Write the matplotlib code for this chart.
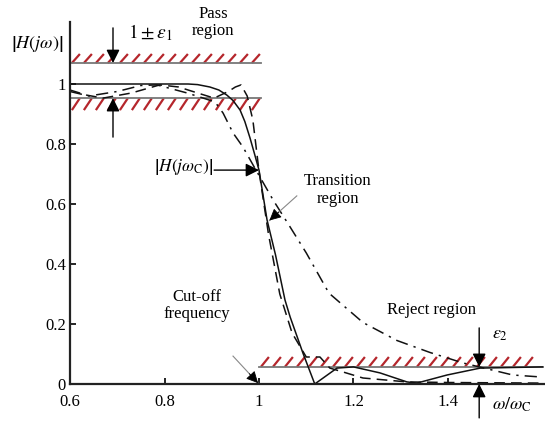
import numpy as np
import matplotlib
matplotlib.use('Agg')
import matplotlib.pyplot as plt
from matplotlib.collections import LineCollection

plt.rcParams['font.family'] = ['Liberation Serif', 'DejaVu Serif']
plt.rcParams['mathtext.fontset'] = 'stix'

# ---------------------------------------------------------------- data
solid_x = [0.6, 0.85, 0.87, 0.896, 0.915, 0.932, 0.945, 0.96, 0.97, 0.981, 0.99, 1.0, 1.017, 1.035,
           1.055, 1.066, 1.093, 1.118, 1.165, 1.2, 1.256, 1.313, 1.334, 1.398, 1.468, 1.6]
solid_y = [1.0, 1.0, 0.998, 0.99, 0.98, 0.963, 0.945, 0.913, 0.875, 0.82, 0.77, 0.713, 0.547, 0.43,
           0.28, 0.223, 0.103, 0.0, 0.053, 0.057, 0.037, 0.007, 0.003, 0.03, 0.053, 0.057]

dashed_x = [0.6, 0.635, 0.67, 0.73, 0.79, 0.83, 0.87, 0.905, 0.935, 0.95, 0.962, 0.975, 0.987, 1.0,
            1.02, 1.044, 1.07, 1.1, 1.129, 1.15, 1.178, 1.22, 1.313, 1.4, 1.5, 1.6]
dashed_y = [0.98, 0.963, 0.953, 0.97, 0.997, 0.99, 0.97, 0.953, 0.975, 0.99, 0.997, 0.96, 0.88, 0.71,
            0.5, 0.3, 0.17, 0.09, 0.09, 0.053, 0.04, 0.02, 0.007, 0.005, 0.004, 0.003]

dashdot_x = [0.6, 0.64, 0.70, 0.75, 0.784, 0.848, 0.882, 0.907, 0.924, 0.945, 0.966, 0.99, 1.03,
             1.066, 1.10, 1.148, 1.22, 1.292, 1.362, 1.432, 1.537, 1.6]
dashdot_y = [0.975, 0.96, 0.975, 0.995, 0.997, 0.97, 0.953, 0.94, 0.903, 0.837, 0.79, 0.723, 0.613,
             0.523, 0.437, 0.303, 0.205, 0.145, 0.105, 0.07, 0.03, 0.023]

pass_upper = 1.07     # 1 + eps1
pass_lower = 0.953    # 1 - eps1
reject_level = 0.057  # eps2
hc = 0.713            # |H(jwc)|

xticks = [0.6, 0.8, 1.0, 1.2, 1.4]
xtick_labels = ['0.6', '0.8', '1', '1.2', '1.4']
yticks = [0, 0.2, 0.4, 0.6, 0.8, 1.0]
ytick_labels = ['0', '0.2', '0.4', '0.6', '0.8', '1']

# ---------------------------------------------------------------- figure
fig = plt.figure(figsize=(5.45, 4.23), dpi=100)
ax = fig.add_axes([70 / 545, 39 / 423, 475 / 545, 362 / 423])
ax.set_xlim(0.6, 1.6 + 2.5 / 472.5)
ax.set_ylim(0, 362 / 300)

for s in ['top', 'right']:
    ax.spines[s].set_visible(False)
for s in ['left', 'bottom']:
    ax.spines[s].set_linewidth(1.6)
    ax.spines[s].set_color('#222222')

ax.set_xticks(xticks)
ax.set_xticklabels(xtick_labels)
ax.set_yticks(yticks)
ax.set_yticklabels(ytick_labels)
ax.tick_params(direction='in', length=4, width=1.2, labelsize=12)
ax.tick_params(axis='x', pad=7)
ax.tick_params(axis='y', pad=3)


def hatch_band(x0, x1, ylo, yhi, line_y):
    # red diagonal strokes + the band's border line
    step = 12 / 472.5
    dx = 8 / 472.5
    segs = [[(xs, ylo), (xs + dx, yhi)] for xs in np.arange(x0 + 0.004, x1 - dx, step)]
    ax.add_collection(LineCollection(segs, colors='#b5262c', linewidths=1.6, clip_on=False))
    ax.plot([x0, x1], [line_y, line_y], color='#777777', lw=1.3, clip_on=False)


hatch_band(0.6, 1.005, pass_upper, pass_upper + 0.03, pass_upper)
hatch_band(0.6, 1.005, pass_lower - 0.04, pass_lower, pass_lower)
hatch_band(1.0, 1.6, reject_level, reject_level + 0.033, reject_level)

ax.plot(solid_x, solid_y, color='#111111', lw=1.1)
ax.plot(dashed_x, dashed_y, color='#111111', lw=1.1, linestyle=(0, (7, 4)))
ax.plot(dashdot_x, dashdot_y, color='#111111', lw=1.1, linestyle=(0, (8, 4, 1.5, 4)))

black = dict(arrowstyle='-|>', color='black', lw=1.0, mutation_scale=20, shrinkA=0, shrinkB=0)


def gray_arrow(tip, tail):
    # thin gray shaft with a black head
    ax.plot([tail[0], tip[0]], [tail[1], tip[1]], color='#888888', lw=0.8)
    mid = (tip[0] + (tail[0] - tip[0]) * 0.35, tip[1] + (tail[1] - tip[1]) * 0.35)
    ax.annotate('', xy=tip, xytext=mid,
                arrowprops=dict(arrowstyle='-|>', color='black', lw=0.6, mutation_scale=18,
                                shrinkA=0, shrinkB=0))


# epsilon 1 arrows
ax.annotate('', xy=(0.691, pass_upper), xytext=(0.691, 1.187), arrowprops=black, annotation_clip=False)
ax.annotate('', xy=(0.691, pass_lower), xytext=(0.691, 0.823), arrowprops=black, annotation_clip=False)
ax.text(0.722, 1.17, r'$1\pm\varepsilon_1$', fontsize=14, va='center', ha='left')
ax.text(0.903, 1.205, 'Pass\nregion', fontsize=12, ha='center', va='center', linespacing=1.1)
ax.text(0.53, 1.133, r'$\left|H(j\omega)\right|$', fontsize=13, ha='center', va='center')

# |H(jwc)|
ax.annotate('', xy=(1.0, hc), xytext=(0.905, hc), arrowprops=black)
ax.text(0.84, 0.723, r'$\left|H(j\omega_{\rm C})\right|$', fontsize=12.5, ha='center', va='center')

ax.text(1.167, 0.647, 'Transition\nregion', fontsize=12, ha='center', va='center', linespacing=1.1)
gray_arrow((1.022, 0.545), (1.08, 0.627))

ax.text(0.869, 0.263, 'Cut-off\nfrequency', fontsize=12, ha='center', va='center', linespacing=1.1)
gray_arrow((0.998, 0.003), (0.945, 0.093))

ax.text(1.366, 0.247, 'Reject region', fontsize=12, ha='center', va='center')

# epsilon 2 arrows
ax.annotate('', xy=(1.466, reject_level), xytext=(1.466, 0.187), arrowprops=black, annotation_clip=False)
ax.annotate('', xy=(1.466, 0.0), xytext=(1.466, -0.113), arrowprops=black, annotation_clip=False)
ax.text(1.51, 0.165, r'$\varepsilon_2$', fontsize=13, ha='center', va='center')

ax.text(1.535, -0.07, r'$\omega/\omega_{\rm C}$', fontsize=13, ha='center', va='center')

fig.savefig('out.png', dpi=100)
